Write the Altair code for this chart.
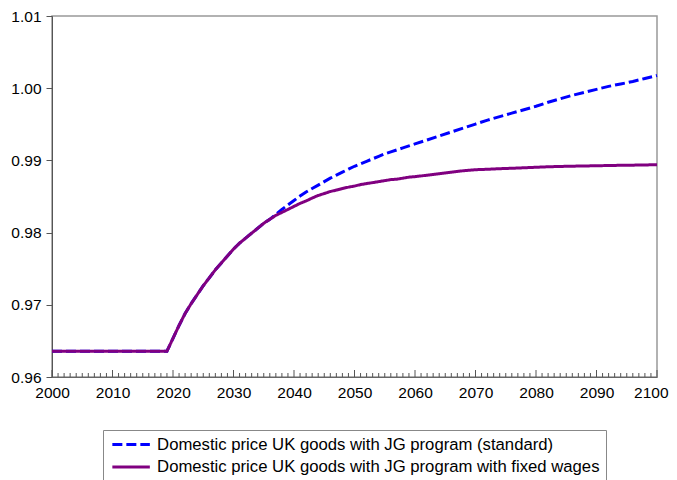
import altair as alt
import pandas as pd

# ---- data ----
years = list(range(2000, 2061)) + list(range(2062, 2101, 2))

flat = [0.96357] * 19  # 2000-2018
common_rise = [0.96357, 0.96536, 0.96714, 0.96879, 0.97016, 0.97140, 0.97264,
               0.97374, 0.97484, 0.97580, 0.97676, 0.97772, 0.97854, 0.97923,
               0.97992, 0.98060, 0.98129, 0.98184]  # 2019-2036

standard_tail = [0.98253, 0.98321, 0.98383, 0.98445, 0.98507, 0.98562, 0.98610,
                 0.98658, 0.98706, 0.98754, 0.98795, 0.98837, 0.98878, 0.98919,
                 0.98953, 0.98988, 0.99022, 0.99056, 0.99091, 0.99118, 0.99146,
                 0.99173, 0.99201, 0.99228,  # 2037-2060
                 0.99283, 0.99338, 0.99393, 0.99448, 0.99503, 0.99558, 0.99606,
                 0.99654, 0.99702, 0.99750, 0.99805, 0.99853, 0.99901, 0.99942,
                 0.99984, 1.00025, 1.00059, 1.00093, 1.00135, 1.00176]  # 2062-2100

fixed_tail = [0.98239, 0.98280, 0.98321, 0.98363, 0.98404, 0.98438, 0.98479,
              0.98514, 0.98541, 0.98569, 0.98589, 0.98610, 0.98630, 0.98644,
              0.98665, 0.98679, 0.98692, 0.98706, 0.98720, 0.98734, 0.98740,
              0.98754, 0.98768, 0.98775,  # 2037-2060
              0.98795, 0.98816, 0.98837, 0.98857, 0.98871, 0.98877, 0.98885,
              0.98891, 0.98898, 0.98905, 0.98912, 0.98916, 0.98920, 0.98923,
              0.98926, 0.98929, 0.98932, 0.98934, 0.98937, 0.98940]  # 2062-2100

standard = flat + common_rise + standard_tail
fixed = flat + common_rise + fixed_tail

s_std = "Domestic price UK goods with JG program (standard)"
s_fix = "Domestic price UK goods with JG program with fixed wages"
series_names = [s_std, s_fix]
series_colors = ["#0000FF", "#800080"]
series_dashes = [[10, 4], [1, 0]]

x_labels = list(range(2000, 2101, 10))
y_labels = [0.96, 0.97, 0.98, 0.99, 1.00, 1.01]
tick_years = list(range(2000, 2101))

df = pd.DataFrame({
    "year": years * 2,
    "value": standard + fixed,
    "series": [s_std] * len(years) + [s_fix] * len(years),
})
ticks_df = pd.DataFrame({"year": tick_years,
                         "major": [y % 10 == 0 for y in tick_years]})

TOP = 8
W, H = 605, 361
FONT = "Liberation Sans"
AXFS = 15.5

xscale = alt.Scale(domain=[2000, 2100], nice=False, zero=False)
yscale = alt.Scale(domain=[0.96, 1.01], nice=False, zero=False)

color = alt.Color(
    "series:N",
    scale=alt.Scale(domain=series_names, range=series_colors),
    legend=alt.Legend(
        title=None, orient="none", legendX=51, legendY=430 - 8 - TOP,
        direction="vertical", symbolType="M-2.5,0H2.5", symbolSize=225,
        symbolStrokeWidth=3, labelFont=FONT, labelFontSize=16.7,
        labelColor="black", labelLimit=600, labelOffset=17,
        rowPadding=4.3, padding=5.6, strokeColor="#888", fillColor="white",
        cornerRadius=0, symbolOffset=13.5,
    ),
)
dash = alt.StrokeDash(
    "series:N",
    scale=alt.Scale(domain=series_names, range=series_dashes),
    legend=None,
)

x_enc = alt.X("year:Q", scale=xscale, title=None,
              axis=alt.Axis(values=x_labels, format="d", ticks=False,
                            labelPadding=8, labelFont=FONT, labelFontSize=AXFS,
                            labelColor="black", domainColor="#666",
                            grid=False, labelFlush=False,
                            labelAlign={"condition": {"test": "datum.value >= 2100",
                                                      "value": "right"},
                                        "value": "center"},
                            labelOffset={"condition": {"test": "datum.value >= 2100",
                                                       "value": 11},
                                         "value": 0}))
y_enc = alt.Y("value:Q", scale=yscale, title=None,
              axis=alt.Axis(values=y_labels, format=".2f", tickSize=6,
                            tickColor="#555", labelPadding=5, labelFont=FONT,
                            labelFontSize=AXFS, labelColor="black",
                            domainColor="#555", grid=False))

base = alt.Chart(df)
line_std = base.transform_filter(alt.datum.series == s_std).mark_line(
    strokeWidth=3).encode(x=x_enc, y=y_enc, color=color, strokeDash=dash)
line_fix = base.transform_filter(alt.datum.series == s_fix).mark_line(
    strokeWidth=3).encode(x=x_enc, y=y_enc, color=color, strokeDash=dash)

tickbase = alt.Chart(ticks_df)
minor = tickbase.transform_filter(~alt.datum.major).mark_rule(
    color="#555", strokeWidth=1).encode(
    x=alt.X("year:Q", scale=xscale), y=alt.value(H), y2=alt.value(H - 4))
major = tickbase.transform_filter(alt.datum.major).mark_rule(
    color="#555", strokeWidth=1).encode(
    x=alt.X("year:Q", scale=xscale), y=alt.value(H), y2=alt.value(H - 7))

chart = alt.layer(minor, major, line_std, line_fix).properties(
    width=W, height=H,
    autosize=alt.AutoSizeParams(type="none"),
    padding={"left": 44, "top": TOP, "right": 12, "bottom": 464 - TOP - H + 8},
    background="white",
).configure_view(stroke="#999", strokeWidth=1.5)

chart.save("out.html", embed_options={"renderer": "svg", "actions": False})
